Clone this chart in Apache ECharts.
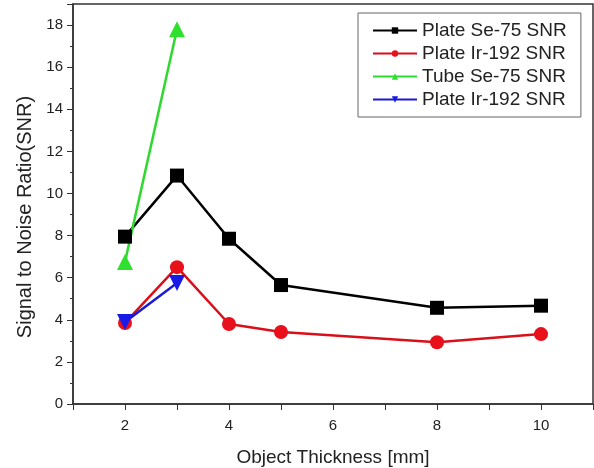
<!DOCTYPE html>
<html>
<head>
<meta charset="utf-8">
<script src="https://cdn.jsdelivr.net/npm/echarts@6/dist/echarts.min.js"></script>
<style>
  html, body { margin: 0; padding: 0; background: #fff; }
  #chart { width: 594px; height: 468px; }
</style>
</head>
<body>
<div id="chart"></div>
<script>
// 数据
var thickness = [2, 3, 4, 5, 8, 10];
var plateSe75 = [7.95, 10.85, 7.85, 5.65, 4.57, 4.67];
var plateIr192 = [3.85, 6.5, 3.8, 3.42, 2.93, 3.32];
var tubeThickness = [2, 3];
var tubeSe75 = [6.75, 17.8];
var plateIr192b = [3.9, 5.75];

var seriesNames = ['Plate Se-75 SNR', 'Plate Ir-192 SNR', 'Tube Se-75 SNR', 'Plate Ir-192 SNR '];

function pairs(xs, ys) {
  var out = [];
  for (var i = 0; i < xs.length; i++) {
    out.push([xs[i], ys[i]]);
  }
  return out;
}

var chart = echarts.init(document.getElementById('chart'));
var font = 'Liberation Sans, Arial, sans-serif';
var axisColor = '#333';

chart.setOption({
  animation: false,
  grid: {
    left: 73, right: 1, top: 4, bottom: 64,
    outerBoundsMode: 'none',
    show: true,
    borderColor: axisColor,
    borderWidth: 1.5
  },
  legend: {
    orient: 'vertical',
    left: 358,
    top: 13,
    padding: [8, 10, 8, 14],
    itemGap: 4,
    itemWidth: 44,
    itemHeight: 8,
    borderColor: '#666',
    borderWidth: 1,
    backgroundColor: '#fff',
    textStyle: { fontFamily: font, fontSize: 19, color: '#222' },
    data: seriesNames
  },
  xAxis: {
    type: 'value',
    min: 1,
    max: 11,
    interval: 1,
    name: 'Object Thickness [mm]',
    nameLocation: 'middle',
    nameGap: 44,
    nameTextStyle: { fontFamily: font, fontSize: 19, color: '#222' },
    axisLine: { lineStyle: { color: axisColor, width: 1.5 } },
    axisTick: { inside: false, length: 6, lineStyle: { color: axisColor } },
    splitLine: { show: false },
    axisLabel: {
      margin: 14,
      fontFamily: font,
      fontSize: 15,
      color: '#222',
      formatter: function (v) {
        return (v % 2 === 0) ? String(v) : '';
      }
    }
  },
  yAxis: {
    type: 'value',
    min: 0,
    max: 19,
    interval: 2,
    name: 'Signal to Noise Ratio(SNR)',
    nameLocation: 'middle',
    nameGap: 37,
    nameTextStyle: { fontFamily: font, fontSize: 20, color: '#222', padding: [0, 26, 0, 0] },
    axisLine: { show: true, lineStyle: { color: axisColor, width: 1.5 } },
    axisTick: { show: true, length: 6, lineStyle: { color: axisColor } },
    minorTick: { show: true, splitNumber: 2, length: 3, lineStyle: { color: axisColor } },
    splitLine: { show: false },
    axisLabel: {
      margin: 10,
      fontFamily: font,
      fontSize: 15,
      color: '#222',
      formatter: function (v) {
        return v > 18 ? '' : String(v);
      }
    }
  },
  series: [
    {
      name: seriesNames[0],
      type: 'line',
      data: pairs(thickness, plateSe75),
      symbol: 'rect',
      symbolSize: 14,
      itemStyle: { color: '#000' },
      lineStyle: { color: '#000', width: 2.5 }
    },
    {
      name: seriesNames[1],
      type: 'line',
      data: pairs(thickness, plateIr192),
      symbol: 'circle',
      symbolSize: 14,
      itemStyle: { color: '#e8101a' },
      lineStyle: { color: '#d8101a', width: 2.5 }
    },
    {
      name: seriesNames[2],
      type: 'line',
      data: pairs(tubeThickness, tubeSe75),
      symbol: 'triangle',
      symbolSize: 16,
      itemStyle: { color: '#2fe02f' },
      lineStyle: { color: '#2fd82f', width: 2.5 }
    },
    {
      name: seriesNames[3],
      type: 'line',
      data: pairs(tubeThickness, plateIr192b),
      symbol: 'triangle',
      symbolRotate: 180,
      symbolSize: 16,
      itemStyle: { color: '#1a1ae6' },
      lineStyle: { color: '#1a1ad0', width: 2.5 }
    }
  ]
});
</script>
</body>
</html>
